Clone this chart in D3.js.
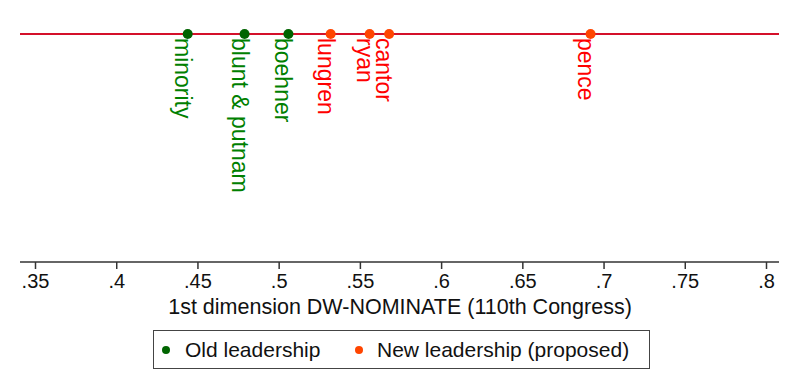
<!DOCTYPE html>
<html>
<head>
<meta charset="utf-8">
<script src="https://d3js.org/d3.v7.min.js"></script>
<style>
    body { margin: 0; background: #fff; }
    svg { font-family: "Liberation Sans", Arial, sans-serif; display: block; }
</style>
</head>
<body>
<div id="chart"></div>
<script>
    // DW-NOMINATE first dimension scores
    const names  = ["minority", "blunt & putnam", "boehner", "lungren", "ryan", "cantor", "pence"];
    const scores = [0.444, 0.479, 0.506, 0.532, 0.556, 0.568, 0.692];
    const groups = ["old", "old", "old", "new", "new", "new", "new"];
    const ticks  = [0.35, 0.4, 0.45, 0.5, 0.55, 0.6, 0.65, 0.7, 0.75, 0.8];
    const legendLabels = ["Old leadership", "New leadership (proposed)"];

    const width = 800, height = 381;
    const dotColor = { old: "#006400", new: "#ff4500" };
    const textColor = { old: "#008000", new: "#ff0000" };

    const svg = d3.select("#chart").append("svg")
        .attr("width", width)
        .attr("height", height);

    const x = d3.scaleLinear().domain([0.35, 0.8]).range([35, 766]);
    const plotLeft = 20, plotRight = 779, lineY = 34, axisY = 262;

    // horizontal reference line
    svg.append("line")
        .attr("x1", plotLeft).attr("x2", plotRight)
        .attr("y1", lineY).attr("y2", lineY)
        .attr("stroke", "#d4102a").attr("stroke-width", 2);

    // x axis
    const axis = svg.append("g")
        .attr("transform", `translate(0,${axisY})`)
        .call(d3.axisBottom(x).tickValues(ticks).tickSize(7).tickPadding(5)
            .tickFormat(d => d3.format(".2~f")(d).replace(/^0/, "")));
    axis.select(".domain").remove();
    axis.insert("line", ":first-child")
        .attr("x1", plotLeft).attr("x2", plotRight)
        .attr("stroke", "#333").attr("stroke-width", 1.5);
    axis.selectAll(".tick line").attr("stroke", "#333").attr("stroke-width", 1.5);
    axis.selectAll(".tick text")
        .attr("font-size", 20).attr("fill", "#111")
        .attr("font-family", "Liberation Sans, Arial, sans-serif");

    svg.append("text")
        .attr("x", 400).attr("y", 314)
        .attr("text-anchor", "middle")
        .attr("font-size", 21.5).attr("fill", "#111")
        .text("1st dimension DW-NOMINATE (110th Congress)");

    // rotated labels
    svg.selectAll(".lab")
        .data(names)
        .join("text")
        .attr("class", "lab")
        .attr("transform", (d, i) => `translate(${x(scores[i]) - 13},38) rotate(90)`)
        .attr("font-size", 23)
        .attr("fill", (d, i) => textColor[groups[i]])
        .text(d => d);

    // points
    svg.selectAll(".pt")
        .data(scores)
        .join("circle")
        .attr("class", "pt")
        .attr("cx", d => x(d))
        .attr("cy", lineY)
        .attr("r", 5)
        .attr("fill", (d, i) => dotColor[groups[i]]);

    // legend
    const lg = svg.append("g");
    lg.append("rect")
        .attr("x", 153.5).attr("y", 330.5)
        .attr("width", 496).attr("height", 38)
        .attr("fill", "#fff").attr("stroke", "#444").attr("stroke-width", 1);
    const legendDotX = [166, 359], legendTextX = [185, 377];
    legendLabels.forEach((l, i) => {
        lg.append("circle")
            .attr("cx", legendDotX[i]).attr("cy", 350)
            .attr("r", 4)
            .attr("fill", i === 0 ? dotColor.old : dotColor.new);
        lg.append("text")
            .attr("x", legendTextX[i]).attr("y", 357)
            .attr("font-size", 21).attr("fill", "#111")
            .text(l);
    });
</script>
</body>
</html>
